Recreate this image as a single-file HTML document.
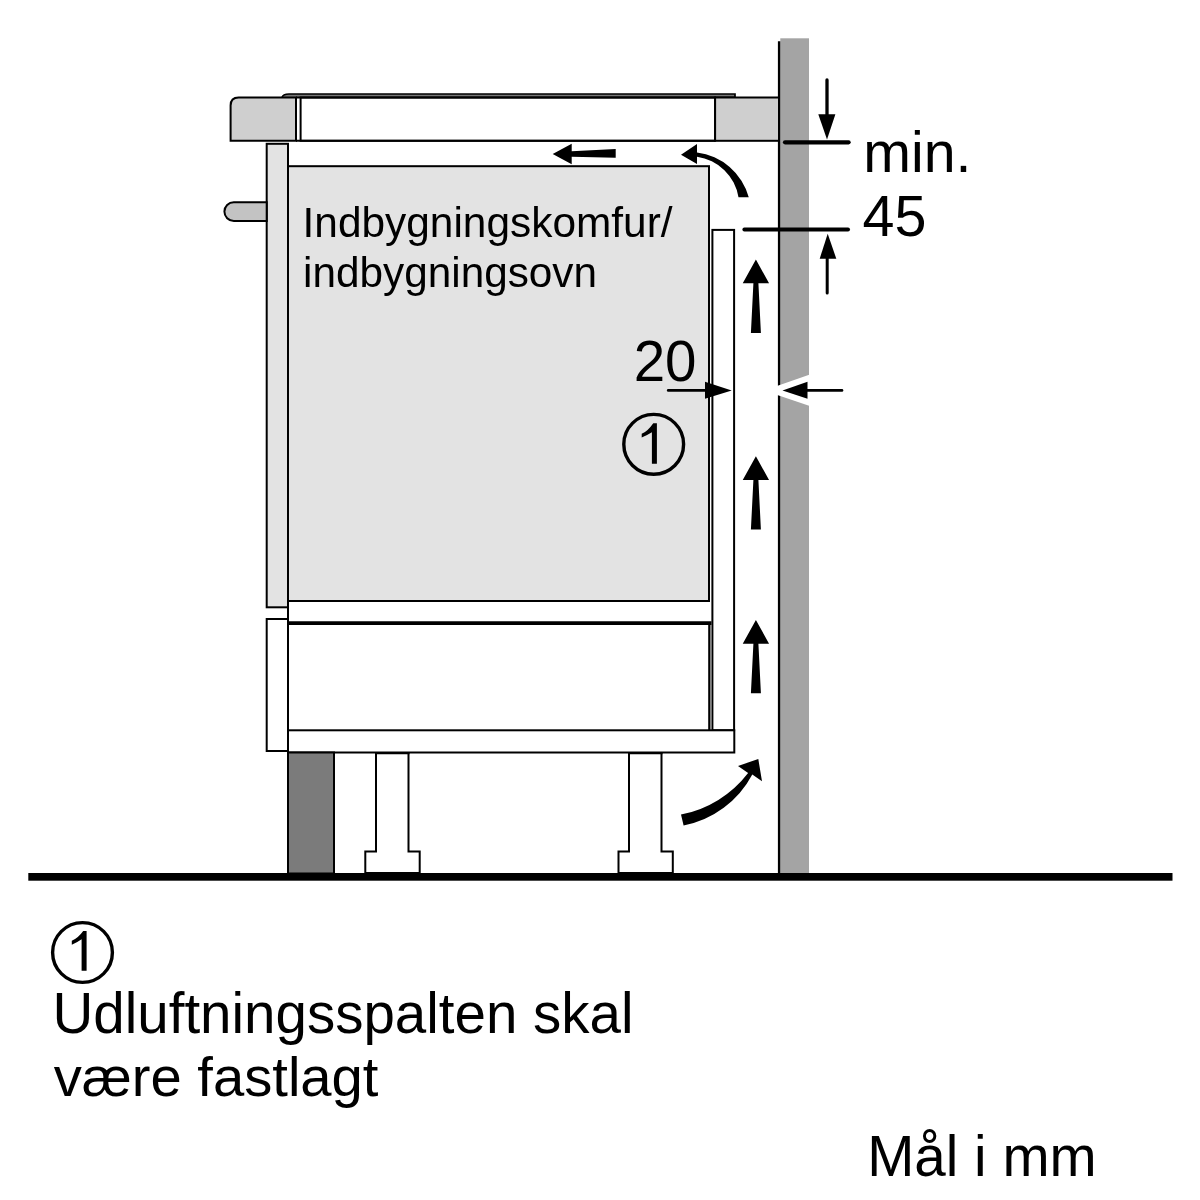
<!DOCTYPE html>
<html><head><meta charset="utf-8">
<style>
html,body{margin:0;padding:0;background:#fff;width:1200px;height:1200px;overflow:hidden}
svg{display:block;will-change:transform}
text{font-family:"Liberation Sans",sans-serif;fill:#000}
</style></head>
<body>
<svg width="1200" height="1200" viewBox="0 0 1200 1200">

<!-- wall -->
<rect x="780.3" y="38.3" width="28.7" height="835" fill="#a4a4a4"/>
<line x1="779.1" y1="41.3" x2="779.1" y2="873" stroke="#000" stroke-width="2.4"/>

<!-- hob glass plate -->
<path d="M735 94 L289 94 Q283 94 282 97.5 L735 97.5 Z" fill="#777"/>
<path d="M282 97.5 Q283 94 289 94 L735 94 L735 97.5" fill="none" stroke="#000" stroke-width="1.7"/>
<!-- countertop left -->
<path d="M230.6 140.8 L230.6 105.5 Q230.6 97.5 238.6 97.5 L296 97.5 L296 140.8 Z" fill="#cfcfcf" stroke="#000" stroke-width="2"/>
<!-- hob body -->
<rect x="300.6" y="97.5" width="414.5" height="43.3" fill="#fff" stroke="#000" stroke-width="2"/>
<line x1="296" y1="97.6" x2="735" y2="97.6" stroke="#000" stroke-width="2"/>
<line x1="296" y1="140.8" x2="715" y2="140.8" stroke="#000" stroke-width="2"/>
<!-- countertop right -->
<rect x="715.1" y="97.5" width="63.9" height="43.3" fill="#cfcfcf" stroke="#000" stroke-width="2"/>

<!-- side panel upper -->
<rect x="266.7" y="143.8" width="21.3" height="463.5" fill="#e3e3e3" stroke="#000" stroke-width="2"/>
<!-- handle -->
<path d="M266.7 202.2 L233.8 202.2 A9.4 9.4 0 0 0 233.8 221 L266.7 221 Z" fill="#c3c3c3" stroke="#000" stroke-width="2"/>
<!-- oven body -->
<rect x="288" y="166.2" width="421" height="434.8" fill="#e3e3e3" stroke="#000" stroke-width="2"/>
<!-- white strip left edge line continues -->
<line x1="288" y1="601" x2="288" y2="873" stroke="#000" stroke-width="2"/>
<!-- vent panel -->
<rect x="712.4" y="229.9" width="21.7" height="500.4" fill="#fff" stroke="#000" stroke-width="2"/>
<!-- drawer -->
<rect x="709.5" y="623" width="2" height="107" fill="#808080"/>
<line x1="709.1" y1="623" x2="709.1" y2="730.3" stroke="#000" stroke-width="1.8"/>
<line x1="288" y1="623.1" x2="711.5" y2="623.1" stroke="#000" stroke-width="3.7"/>
<!-- lower side panel -->
<rect x="266.7" y="619" width="21.3" height="132" fill="#fff" stroke="#000" stroke-width="2"/>
<!-- legs -->
<path d="M376 752.5 L376 851.5 L365.3 851.5 L365.3 873 L419.7 873 L419.7 851.5 L408.5 851.5 L408.5 752.5" fill="#fff" stroke="#000" stroke-width="2"/>
<path d="M629 752.5 L629 851.5 L618.5 851.5 L618.5 873 L672.8 873 L672.8 851.5 L661.5 851.5 L661.5 752.5" fill="#fff" stroke="#000" stroke-width="2"/>

<line x1="375" y1="753.2" x2="409.5" y2="753.2" stroke="#000" stroke-width="2"/>
<line x1="628" y1="753.2" x2="662.5" y2="753.2" stroke="#000" stroke-width="2"/>
<!-- plinth -->
<rect x="288" y="730.3" width="446.3" height="22.2" fill="#fff" stroke="#000" stroke-width="2"/>
<!-- dark block -->
<rect x="288" y="752.5" width="46" height="121" fill="#7b7b7b" stroke="#000" stroke-width="2"/>
<!-- floor -->
<rect x="28.3" y="873" width="1144.2" height="7.7" fill="#000"/>

<!-- dimension lines -->
<line x1="785" y1="142.3" x2="848.6" y2="142.3" stroke="#000" stroke-width="4.2" stroke-linecap="round"/>
<line x1="744.4" y1="229.5" x2="848" y2="229.5" stroke="#000" stroke-width="4" stroke-linecap="round"/>
<line x1="827" y1="80" x2="827" y2="115" stroke="#000" stroke-width="3.3" stroke-linecap="round"/>
<path d="M818.3 114.2 L835.4 114.2 L827 139.6 Z" fill="#000"/>
<line x1="827.2" y1="258" x2="827.2" y2="293" stroke="#000" stroke-width="3" stroke-linecap="round"/>
<path d="M819.7 258.7 L836.3 258.7 L827.7 233.7 Z" fill="#000"/>

<!-- 20 arrows -->
<line x1="668.2" y1="390.4" x2="706" y2="390.4" stroke="#000" stroke-width="2.6" stroke-linecap="round"/>
<path d="M705 381.7 L705 398.8 L731.7 390.4 Z" fill="#000"/>
<path d="M782.5 390.4 L807.5 381.7 L807.5 398.8 Z" fill="#fff" stroke="#fff" stroke-width="12" stroke-linejoin="miter" stroke-miterlimit="10"/>
<path d="M782.5 390.4 L807.5 381.7 L807.5 398.8 Z" fill="#000"/>
<line x1="806" y1="390.4" x2="842" y2="390.4" stroke="#000" stroke-width="2.6" stroke-linecap="round"/>

<!-- flow arrows -->
<path d="M552.7 154 L571.7 143.7 L571.7 151.3 L615.7 149 L615.7 157.7 L571.7 156.7 L571.7 164.3 Z" fill="#000"/>
<path d="M748.75 197.2 A61.6 61.6 0 0 0 697 152.5 L697 144 L681 154.7 L697 164 L697 156.75 A48.8 48.8 0 0 1 738.5 197.2 Z" fill="#000"/>
<path transform="translate(755.9 259.6)" d="M0 0 L13.15 23.7 L2.5 23.7 L5 73.3 L-5 73.3 L-2.5 23.7 L-13.15 23.7 Z" fill="#000"/>
<path transform="translate(755.9 456.3)" d="M0 0 L13.15 23.7 L2.5 23.7 L5 73.3 L-5 73.3 L-2.5 23.7 L-13.15 23.7 Z" fill="#000"/>
<path transform="translate(755.9 620)" d="M0 0 L13.15 23.7 L2.5 23.7 L5 73.3 L-5 73.3 L-2.5 23.7 L-13.15 23.7 Z" fill="#000"/>
<path d="M681 814.6 A111.3 111.3 0 0 0 748.1 773 L738 765.9 L758.3 759.1 L762 781.3 L752.3 774.5 A99.2 99.2 0 0 1 683.6 825.5 Z" fill="#000"/>

<!-- circled 1 -->
<circle cx="653.7" cy="444.3" r="29.9" fill="none" stroke="#000" stroke-width="3.4"/>
<path d="M656.9 423.2 L656.9 463.8 L651.9 463.8 L651.9 432.2 Q646.2 435.7 641.7 437.6 L641.7 433.8 Q647.5 431.5 653.3 423.2 Z" fill="#000"/>
<circle cx="82.5" cy="952.5" r="29.9" fill="none" stroke="#000" stroke-width="3.4"/>
<path d="M86.6 931 L86.6 970.8 L81.6 970.8 L81.6 939.2 Q77.7 942 71.8 944.8 L71.8 940.8 Q78.5 937.7 83.2 931 Z" fill="#000"/>

<!-- texts -->
<text x="302.6" y="237" font-size="42.4">Indbygningskomfur/</text>
<text x="303.1" y="287" font-size="42.3">indbygningsovn</text>
<text x="633.7" y="381" font-size="56.5">20</text>
<text x="863.2" y="172" font-size="57.3">min.</text>
<text x="862.6" y="236" font-size="57.4">45</text>
<text x="52.5" y="1033" font-size="56.5">Udluftningsspalten skal</text>
<text x="53.7" y="1096" font-size="56.2">være fastlagt</text>
<text x="867.2" y="1176" font-size="56.6">Mål i mm</text>
</svg>
</body></html>
